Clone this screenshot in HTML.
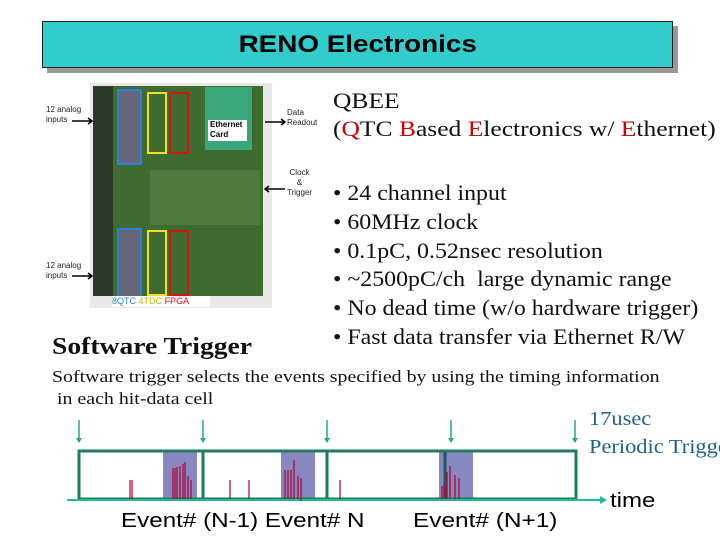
<!DOCTYPE html>
<html><head><meta charset="utf-8"><style>
body{margin:0;width:720px;height:540px;background:#fff;position:relative;overflow:hidden;font-family:"Liberation Serif",serif}
.a{position:absolute}
.t{font-family:"Liberation Serif",serif;font-size:22px;color:#111;white-space:nowrap;transform-origin:0 0}
.r{color:#d00000}
.s{font-family:"Liberation Sans",sans-serif;font-size:8px;color:#222;line-height:10px}
.e{font:20px 'Liberation Sans','DejaVu Sans',sans-serif;white-space:nowrap;transform-origin:0 0}
</style></head><body>
<div class="a" style="left:47px;top:26px;width:631px;height:47px;background:#999"></div>
<div class="a" style="left:42px;top:21px;width:629px;height:45px;background:#33cccc;border:1px solid #222;text-align:center;font:bold 24px/45px 'Liberation Sans',sans-serif;color:#000"><span style="display:inline-block;transform:scaleX(1.16)">RENO Electronics</span></div>

<!-- board -->
<div class="a" style="left:90px;top:83px;width:182px;height:225px;background:#e8e8e8"></div>
<div class="a" style="left:93px;top:86px;width:170px;height:210px;background:#3d6b30"></div>
<div class="a" style="left:93px;top:86px;width:20px;height:210px;background:#2b3a28"></div>
<div class="a" style="left:150px;top:170px;width:110px;height:55px;background:#4d7a3d"></div>
<div class="a" style="left:205px;top:87px;width:47px;height:63px;background:#3aa67a"></div>
<div class="a" style="left:208px;top:120px;width:37px;height:21px;background:#fff;font:bold 8px/10px 'Liberation Sans',sans-serif;color:#000;padding-left:2px">Ethernet<br>Card</div>
<div class="a" style="left:117px;top:89px;width:21px;height:72px;border:2px solid #2a7fe0;background:#667"></div>
<div class="a" style="left:117px;top:228px;width:21px;height:68px;border:2px solid #2a7fe0;background:#667"></div>
<div class="a" style="left:147px;top:92px;width:16px;height:58px;border:2px solid #f0e020"></div>
<div class="a" style="left:169px;top:92px;width:16px;height:58px;border:2px solid #e01010"></div>
<div class="a" style="left:147px;top:230px;width:16px;height:62px;border:2px solid #f0e020"></div>
<div class="a" style="left:169px;top:230px;width:16px;height:62px;border:2px solid #e01010"></div>
<div class="a" style="left:112px;top:296px;width:98px;height:11px;background:#fff;font:9px/11px 'Liberation Sans',sans-serif"><span style="color:#2a7fe0">8QTC</span> <span style="color:#c8b800">4TDC</span> <span style="color:#e01010">FPGA</span></div>

<div class="a s" style="left:46px;top:105px">12 analog<br>inputs</div>
<div class="a s" style="left:46px;top:261px">12 analog<br>inputs</div>
<div class="a s" style="left:287px;top:108px">Data<br>Readout</div>
<div class="a s" style="left:287px;top:168px;text-align:center">Clock<br>&amp;<br>Trigger</div>
<svg class="a" style="left:0;top:0" width="720" height="540">
<g stroke="#000" stroke-width="1.5" fill="none"><path d="M72 121h20M88 118l4 3-4 3"/><path d="M72 276h20M88 273l4 3-4 3"/><path d="M265 122h20M281 119l4 3-4 3"/><path d="M265 189h20M269 186l-4 3 4 3"/></g>
</svg>

<div class="a t" style="left:333px;top:87px;line-height:28px;transform:scaleX(1.16)">QBEE<br>(<span class="r">Q</span>TC <span class="r">B</span>ased <span class="r">E</span>lectronics w/ <span class="r">E</span>thernet)</div>
<div class="a t" style="left:333px;top:179px;line-height:28.8px;transform:scaleX(1.086)">• 24 channel input<br>• 60MHz clock<br>• 0.1pC, 0.52nsec resolution<br>• ~2500pC/ch&nbsp; large dynamic range<br>• No dead time (w/o hardware trigger)<br>• Fast data transfer via Ethernet R/W</div>
<div class="a t" style="left:52px;top:334px;font-weight:bold;font-size:24px;transform:scaleX(1.15)">Software Trigger</div>
<div class="a t" style="left:52px;top:366px;font-size:17px;line-height:22px;transform:scaleX(1.17)">Software trigger selects the events specified by using the timing information<br>&nbsp;in each hit-data cell</div>
<div class="a t" style="left:589px;top:405px;font-size:20px;line-height:28px;color:#1f5f8f;transform:scaleX(1.12)">17usec<br>Periodic Trigger</div>

<svg class="a" style="left:0;top:0" width="720" height="540">
<g fill="#8888c0"><rect x="163" y="450" width="34" height="50"/><rect x="281" y="450" width="34" height="50"/><rect x="439" y="450" width="34" height="50"/></g>
<g stroke="#1e7a60" stroke-width="3" fill="none"><rect x="79" y="451" width="497" height="48"/><path d="M203 451v48M327 451v48"/></g>
<path d="M445 452v47" stroke="#1e5a60" stroke-width="3"/>
<path d="M67 500H602" stroke="#22bb99" stroke-width="2"/><path d="M600 496l7 4-7 4z" fill="#22bb99"/>
<g stroke="#22aa88" stroke-width="1.5"><path d="M79 420v20M203 420v20M327 420v20M451 420v20M575 420v20"/></g>
<g fill="#22aa88"><path d="M76 438h6l-3 5z"/><path d="M200 438h6l-3 5z"/><path d="M324 438h6l-3 5z"/><path d="M448 438h6l-3 5z"/><path d="M572 438h6l-3 5z"/></g>
<g stroke="#b00030" stroke-width="1.2"><path d="M130 480v19M132 480v19M230 480v19M249 480v19M340 480v19"/>
<path d="M173 468v31M175 468v31M177 467v32M180 466v33M183 464v35M185 462v37M188 476v23M191 480v19"/>
<path d="M285 470v29M288 470v29M291 470v29M294 460v39M298 476v23M301 478v23"/>
<path d="M442 486v13M444 484v13M447 472v27M450 466v33M455 475v24M459 478v21"/></g>
</svg>
<div class="a e" style="left:121px;top:510px;transform:scaleX(1.21)">Event# (N-1) Event# N</div>
<div class="a e" style="left:413px;top:510px;transform:scaleX(1.22)">Event# (N+1)</div>
<div class="a e" style="left:610px;top:490px;transform:scaleX(1.2)">time</div>
</body></html>
